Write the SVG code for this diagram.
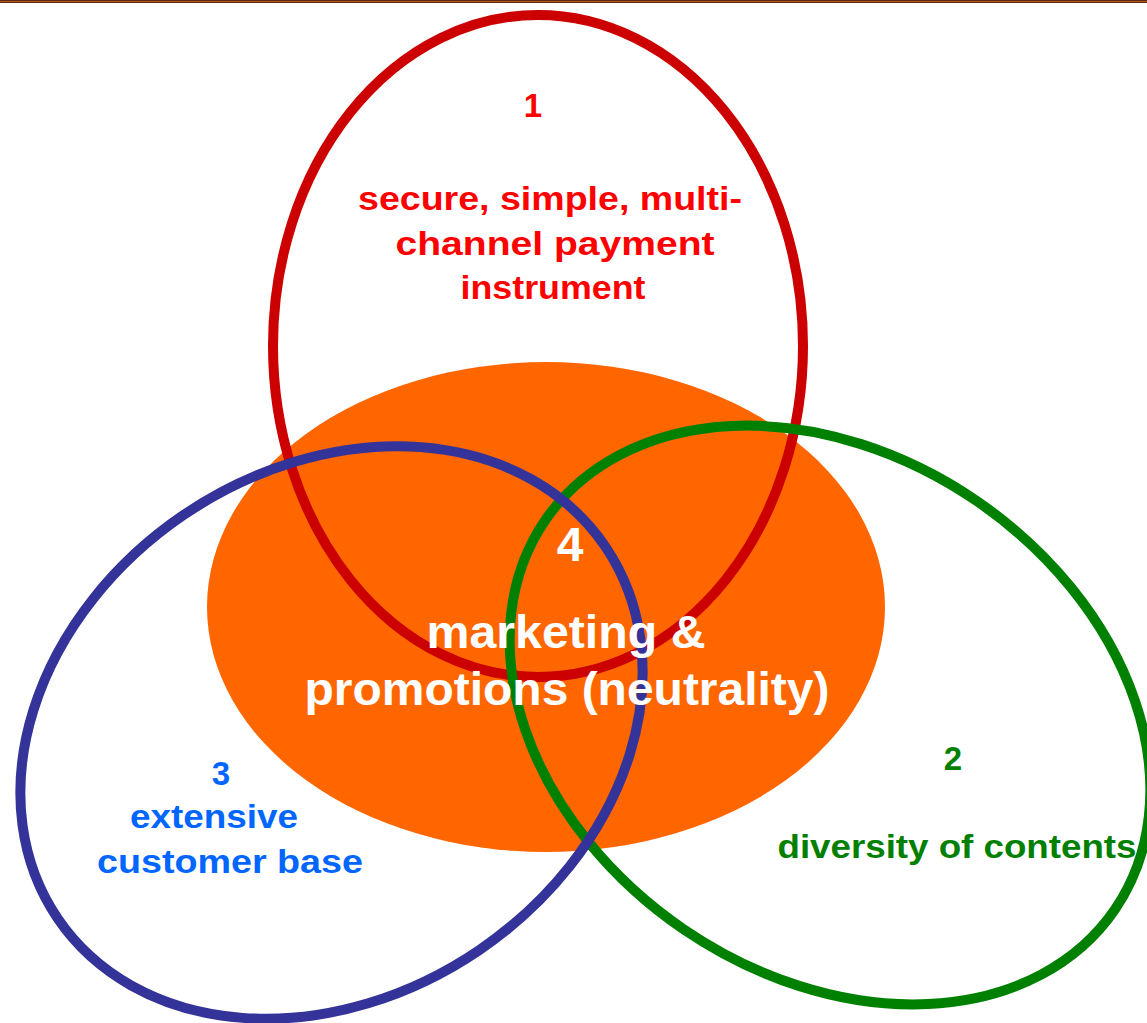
<svg xmlns="http://www.w3.org/2000/svg" width="1147" height="1023" viewBox="0 0 1147 1023">
<style>
.t{font-family:"Liberation Sans",Arial,sans-serif;font-weight:bold;text-anchor:middle}
.ring{fill:none}
</style>
<rect x="0" y="0" width="1147" height="1023" fill="#ffffff"/>
<rect x="0" y="0" width="1147" height="3" fill="#5a2a0e"/>
<rect x="0" y="1" width="1147" height="1" fill="#b85a1a"/>
<g id="node4-bg"><ellipse cx="546" cy="607" rx="339" ry="245" fill="#ff6600"/></g>
<g id="connectors"></g>
<g id="node1"><ellipse class="ring" cx="538" cy="346" rx="265" ry="331" stroke="#cc0000" stroke-width="10"/></g>
<g id="node2"><ellipse class="ring" cx="830" cy="715" rx="345" ry="259.5" transform="rotate(34.3 830 715)" stroke="#008000" stroke-width="10"/></g>
<g id="node3"><ellipse class="ring" cx="331.5" cy="732.5" rx="331" ry="263" transform="rotate(-34.2 331.5 732.5)" stroke="#333399" stroke-width="10"/></g>
<g id="label1" fill="#ff0000">
<text class="t" x="533" y="117" font-size="33">1</text>
<text class="t" x="550" y="210" font-size="34" textLength="384" lengthAdjust="spacingAndGlyphs">secure, simple, multi-</text>
<text class="t" x="555" y="255" font-size="34" textLength="319" lengthAdjust="spacingAndGlyphs">channel payment</text>
<text class="t" x="553" y="299" font-size="34" textLength="185" lengthAdjust="spacingAndGlyphs">instrument</text>
</g>
<g id="label4" fill="#ffffff">
<text class="t" x="570" y="561" font-size="48">4</text>
<text class="t" x="566" y="648" font-size="46" textLength="279" lengthAdjust="spacingAndGlyphs">marketing &amp;</text>
<text class="t" x="567" y="705" font-size="46" textLength="525" lengthAdjust="spacingAndGlyphs">promotions (neutrality)</text>
</g>
<g id="label3" fill="#0066ff">
<text class="t" x="221" y="785" font-size="33">3</text>
<text class="t" x="214" y="828" font-size="34" textLength="168" lengthAdjust="spacingAndGlyphs">extensive</text>
<text class="t" x="230" y="873" font-size="34" textLength="266" lengthAdjust="spacingAndGlyphs">customer base</text>
</g>
<g id="label2" fill="#008000">
<text class="t" x="953" y="770" font-size="33">2</text>
<text class="t" x="957" y="858" font-size="34" textLength="359" lengthAdjust="spacingAndGlyphs">diversity of contents</text>
</g>
</svg>
